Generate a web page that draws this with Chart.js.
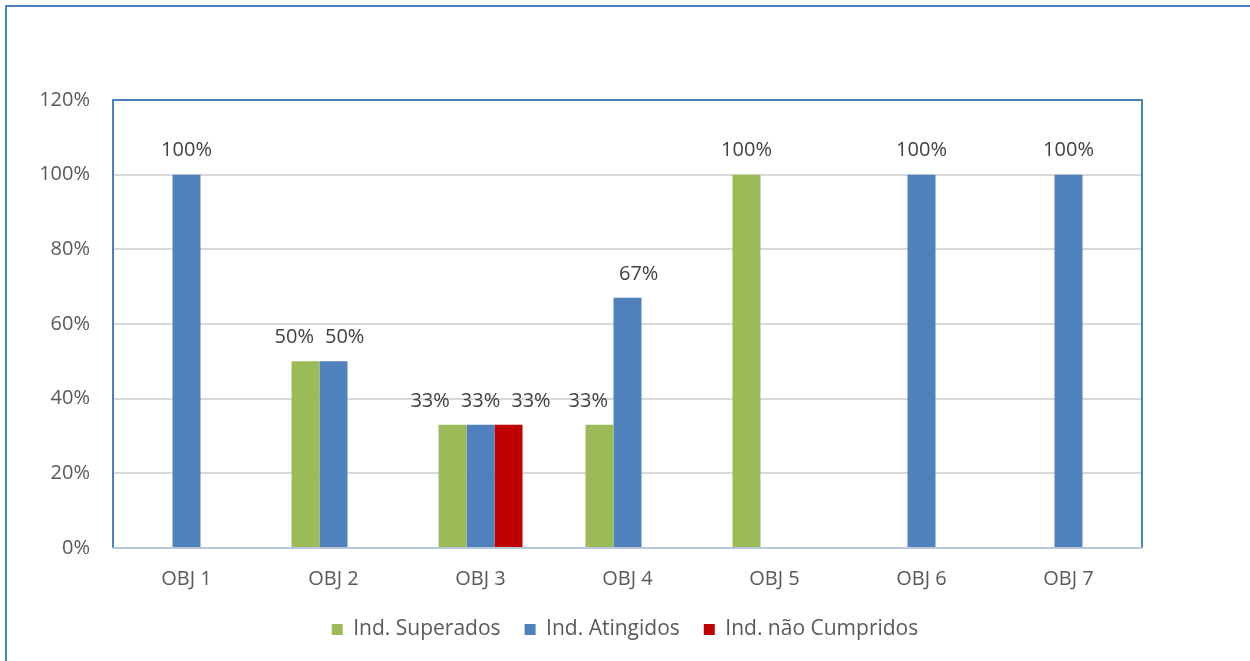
<!DOCTYPE html>
<html>
<head>
<meta charset="utf-8">
<title>Indicadores por objetivo</title>
<script src="https://cdn.jsdelivr.net/npm/chart.js@4.4.1/dist/chart.umd.min.js"></script>
<style>
  html, body { margin: 0; padding: 0; background: #fff; }
  #wrap { width: 1250px; height: 661px; position: relative; }
</style>
</head>
<body>
<div id="wrap"><canvas id="chart"></canvas></div>
<script>
const categories = ["OBJ 1", "OBJ 2", "OBJ 3", "OBJ 4", "OBJ 5", "OBJ 6", "OBJ 7"]
const superados = [null, 0.50, 0.33, 0.33, 1.00, null, null]
const atingidos = [1.00, 0.50, 0.33, 0.67, 0, 1.00, 1.00]
const naoCumpridos = [null, null, 0.33, null, null, null, null]
const seriesNames = ["Ind. Superados", "Ind. Atingidos", "Ind. não Cumpridos"]
const seriesColors = ["#9bbb59", "#4f81bd", "#c00000"]
const yMax = 1.2
const yStep = 0.2

const FONT = "'Open Sans', 'Noto Sans', sans-serif"
const pct = v => Math.round(v * 100) + "%"

// value labels above each bar, pushed apart when they would collide
const barLabels = {
  id: "barLabels",
  afterDatasetsDraw(chart) {
    const ctx = chart.ctx
    ctx.save()
    ctx.font = "20px " + FONT
    ctx.fillStyle = "#404040"
    ctx.textAlign = "center"
    ctx.textBaseline = "middle"
    categories.forEach((_, i) => {
      const items = []
      chart.data.datasets.forEach((ds, d) => {
        const v = ds.data[i]
        if (!v) return
        const bar = chart.getDatasetMeta(d).data[i]
        items.push({ text: pct(v), x: bar.x, y: bar.y })
      })
      const n = items.length
      if (n > 1) {
        const w = Math.max(...items.map(it => ctx.measureText(it.text).width)) + 11
        if (items[1].x - items[0].x < w) {
          const mid = items.reduce((s, it) => s + it.x, 0) / n
          items.forEach((it, k) => { it.x = mid + (k - (n - 1) / 2) * w })
        }
      }
      items.forEach(it => ctx.fillText(it.text, it.x, it.y - 24))
    })
    ctx.restore()
  }
}

// outer frame and plot box
const frame = {
  id: "frame",
  afterDraw(chart) {
    const { ctx, chartArea: a } = chart
    ctx.save()
    ctx.lineWidth = 2
    ctx.strokeStyle = "#4f81bd"
    ctx.beginPath()
    ctx.moveTo(6, 661)
    ctx.lineTo(6, 6)
    ctx.lineTo(1250, 6)
    ctx.stroke()
    ctx.beginPath()
    ctx.moveTo(a.left, a.bottom)
    ctx.lineTo(a.left, a.top)
    ctx.lineTo(a.right, a.top)
    ctx.lineTo(a.right, a.bottom)
    ctx.stroke()
    ctx.strokeStyle = "#b9c7da"
    ctx.beginPath()
    ctx.moveTo(a.left, a.bottom)
    ctx.lineTo(a.right, a.bottom)
    ctx.stroke()
    ctx.restore()
  }
}

const ctx = document.getElementById("chart").getContext("2d")
new Chart(ctx, {
  type: "bar",
  data: {
    labels: categories,
    datasets: [superados, atingidos, naoCumpridos].map((data, k) => ({
      label: seriesNames[k],
      data,
      backgroundColor: seriesColors[k],
      categoryPercentage: 84 / 147,
      barPercentage: 1
    }))
  },
  options: {
    responsive: true,
    maintainAspectRatio: false,
    animation: false,
    layout: { padding: { top: 100, right: 0, left: 0, bottom: 11 } },
    scales: {
      x: {
        grid: { display: false, drawTicks: false },
        border: { display: false },
        ticks: { color: "#595959", font: { family: FONT, size: 20 }, padding: 19 },
        afterFit: s => { s.height = 47 }
      },
      y: {
        min: 0,
        max: yMax,
        grid: { color: "#d9d9d9", lineWidth: 2, drawTicks: false },
        border: { display: false },
        ticks: {
          stepSize: yStep,
          color: "#595959",
          font: { family: FONT, size: 20 },
          padding: 23,
          callback: v => pct(v)
        },
        afterFit: s => { s.width = 113 }
      },
      // empty right margin so the legend centres on the whole canvas
      margin: {
        position: "right",
        min: 0,
        max: yMax,
        grid: { display: false },
        border: { display: false },
        ticks: { display: false },
        afterFit: s => { s.width = 108 }
      }
    },
    plugins: {
      tooltip: { enabled: false },
      legend: {
        position: "bottom",
        labels: {
          color: "#595959",
          font: { family: FONT, size: 21 },
          boxWidth: 11,
          boxHeight: 11,
          padding: 24
        }
      }
    }
  },
  plugins: [barLabels, frame]
})
</script>
</body>
</html>
